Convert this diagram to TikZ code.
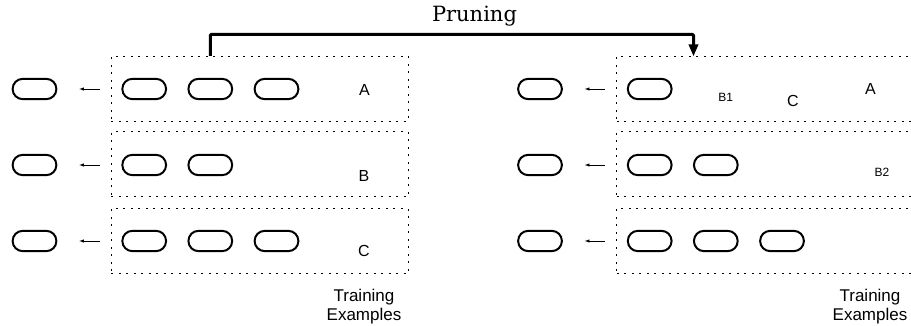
\documentclass[tikz,border=0pt]{standalone}
\usepackage{fontspec}
\setmainfont{Liberation Sans}
\newfontfamily\prunefont{DejaVu Serif}
\usetikzlibrary{arrows.meta}
\tikzset{
 oval/.style={draw, line width=2pt, rounded corners=10pt, minimum width=43.7pt, minimum height=20.3pt, inner sep=0pt},
 exbox/.style={draw, line width=1pt, dash pattern=on 2pt off 5.5pt, minimum width=297pt, minimum height=65pt, inner sep=0pt},
 feed/.style={line width=0.9pt, -{Latex[length=5pt,width=3.5pt]}, shorten <=11pt, shorten >=21.6pt},
 prune/.style={line width=3pt, -{Triangle[length=12pt,width=9pt]}, rounded corners=1pt},
 lab/.style={font=\fontsize{16}{19}\selectfont, inner sep=0pt},
 sublab/.style={font=\fontsize{12}{14}\selectfont, inner sep=0pt},
 trainlab/.style={font=\fontsize{17}{18.5}\selectfont, align=center, inner sep=0pt, anchor=north},
 titlelab/.style={font=\prunefont\fontsize{21}{24}\selectfont, inner sep=0pt, anchor=base}
}
\begin{document}
\begin{tikzpicture}[x=1pt,y=-1pt]
\useasboundingbox (0,0) rectangle (911,326);
\clip (0,0) rectangle (911,326);
% ---------- left panel ----------
\node[exbox] (LB1) at (259.5,89) {};
\node[exbox] (LB2) at (259.5,164.5) {};
\node[exbox] (LB3) at (259.5,241) {};
\node[oval] (Lo1) at (34.5,89) {};
\node[oval] (Lo2) at (34.5,165) {};
\node[oval] (Lo3) at (34.5,241) {};
\node[oval] (L11) at (144.2,89) {};
\node[oval] (L12) at (210.3,89) {};
\node[oval] (L13) at (276.5,89) {};
\node[oval] (L21) at (144.2,165) {};
\node[oval] (L22) at (210.3,165) {};
\node[oval] (L31) at (144.2,241) {};
\node[oval] (L32) at (210.3,241) {};
\node[oval] (L33) at (276.5,241) {};
\draw[feed] (LB1.west |- Lo1) -- (Lo1.east);
\draw[feed] (LB2.west |- Lo2) -- (Lo2.east);
\draw[feed] (LB3.west |- Lo3) -- (Lo3.east);
\node[lab] (LA) at (364.5,89.5) {A};
\node[lab] (LBl) at (364,176) {B};
\node[lab] (LC) at (364,251) {C};
\node[trainlab] (LT) at (364,289.3) {Training\\Examples};
% ---------- right panel ----------
\node[exbox] (RB1) at (765,89) {};
\node[exbox] (RB2) at (765,164.5) {};
\node[exbox] (RB3) at (765,241) {};
\node[oval] (Ro1) at (540,89) {};
\node[oval] (Ro2) at (540,165) {};
\node[oval] (Ro3) at (540,241) {};
\node[oval] (R11) at (649.7,89) {};
\node[oval] (R21) at (649.7,165) {};
\node[oval] (R22) at (715.8,165) {};
\node[oval] (R31) at (649.7,241) {};
\node[oval] (R32) at (715.8,241) {};
\node[oval] (R33) at (782,241) {};
\draw[feed] (RB1.west |- Ro1) -- (Ro1.east);
\draw[feed] (RB2.west |- Ro2) -- (Ro2.east);
\draw[feed] (RB3.west |- Ro3) -- (Ro3.east);
\node[sublab] (RB1l) at (725.8,97.5) {B1};
\node[lab] (RC) at (793,100.8) {C};
\node[lab] (RA) at (870.5,89) {A};
\node[sublab] (RB2l) at (882,172.5) {B2};
\node[trainlab] (RT) at (870,289.3) {Training\\Examples};
% ---------- pruning bracket ----------
\coordinate (pS) at (L12.center |- LB1.north);
\coordinate (pTop) at (450,34.5);
\coordinate (pE) at (693.5,56.5);
\draw[prune] (pS) |- (pTop) -| (pE);
\node[titlelab] (ptitle) at (474.5,22) {Pruning};
\end{tikzpicture}
\end{document}
